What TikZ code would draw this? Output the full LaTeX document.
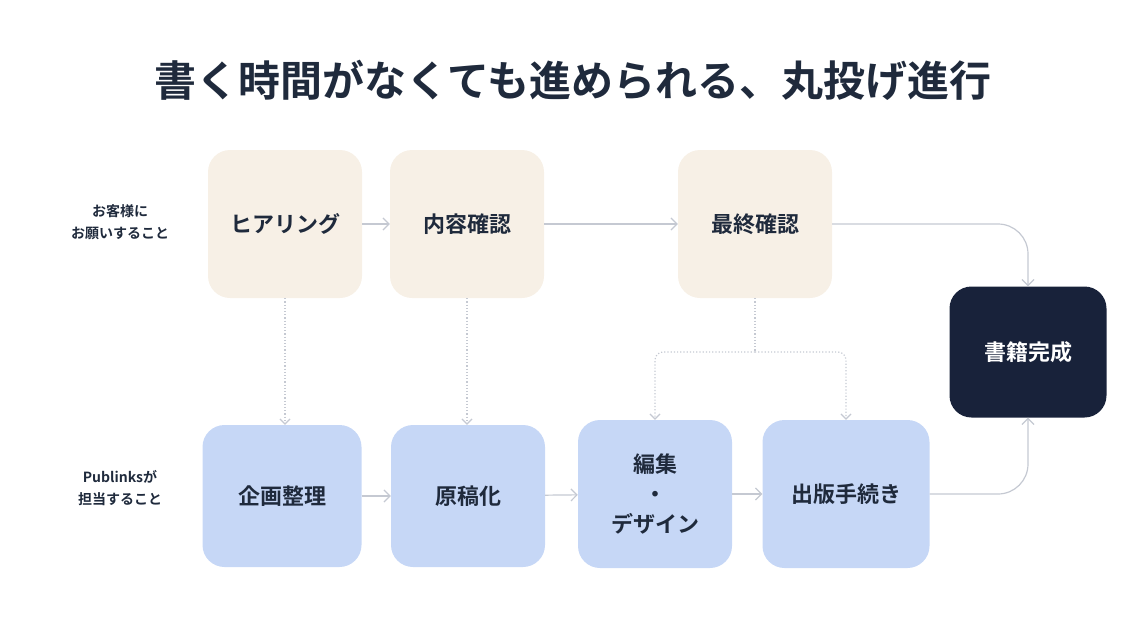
\documentclass[tikz,border=0pt]{standalone}
\usepackage{fontspec}
\setmainfont{Noto Sans CJK JP}[BoldFont={* Bold}]
\usetikzlibrary{positioning,arrows.meta}
\definecolor{ink}{HTML}{1F2A3C}
\definecolor{beige}{HTML}{F7F0E6}
\definecolor{lblue}{HTML}{C6D7F6}
\definecolor{navy}{HTML}{18223A}
\definecolor{linegray}{HTML}{C5C9D2}
\begin{document}
\begin{tikzpicture}[
    x=1pt, y=-1pt,
    box/.style={rectangle, rounded corners=22pt, minimum width=154pt, minimum height=148pt, align=center, font=\bfseries\fontsize{22}{30}\selectfont, text=ink},
    client/.style={box, fill=beige},
    team/.style={box, fill=lblue},
    goal/.style={box, fill=navy, text=white, minimum width=157pt, minimum height=131pt},
    side/.style={align=center, font=\bfseries\fontsize{14}{22}\selectfont, text=ink},
    arrow/.style={-{Straight Barb[length=6pt,width=12pt]}, draw=linegray, line width=1.2pt},
    dots/.style={-{Straight Barb[length=5pt,width=10pt]}, draw=linegray, line width=1.2pt, dotted}
]
\useasboundingbox (0,0) rectangle (1146,643);

% Title
\node[font=\bfseries\fontsize{42}{50}\selectfont, text=ink] (title) at (573,80) {書く時間がなくても進められる、丸投げ進行};

% Side labels
\node[side] (clientlabel) at (120,222) {お客様に\\お願いすること};
\node[side] (teamlabel) at (120,488) {Publinksが\\担当すること};

% Client steps
\node[client] (hearing) at (285,224) {ヒアリング};
\node[client] (content) at (467,224) {内容確認};
\node[client] (final) at (755,224) {最終確認};

% Team steps
\node[team, minimum width=159pt, minimum height=142pt] (plan) at (282,496) {企画整理};
\node[team, minimum height=142pt] (draft) at (468,496) {原稿化};
\node[team] (design) at (655,494) {編集\\・\\デザイン};
\node[team, minimum width=167pt] (publish) at (846,494) {出版手続き};

% Goal
\node[goal] (book) at (1028,352) {書籍完成};

% Connections
\draw[arrow] (hearing) -- (content);
\draw[arrow] (content) -- (final);
\draw[arrow, rounded corners=30pt] (final.east) -- (1028,224) -- (book.north);
\draw[arrow] (plan) -- (draft);
\draw[arrow] (draft) -- (design);
\draw[arrow] (design) -- (publish);
\draw[arrow, rounded corners=30pt] (publish.east) -- (1028,494) -- (book.south);

\coordinate (split) at (755,352);
\draw[dots] (hearing) -- (hearing|-plan.north);
\draw[dots] (content) -- (content|-draft.north);
\draw[dotted, draw=linegray, line width=1.2pt] (final) -- (split);
\draw[dots, rounded corners=8pt] (split) -- (655,352) -- (design.north);
\draw[dots, rounded corners=8pt] (split) -- (846,352) -- (publish.north);
\end{tikzpicture}
\end{document}
